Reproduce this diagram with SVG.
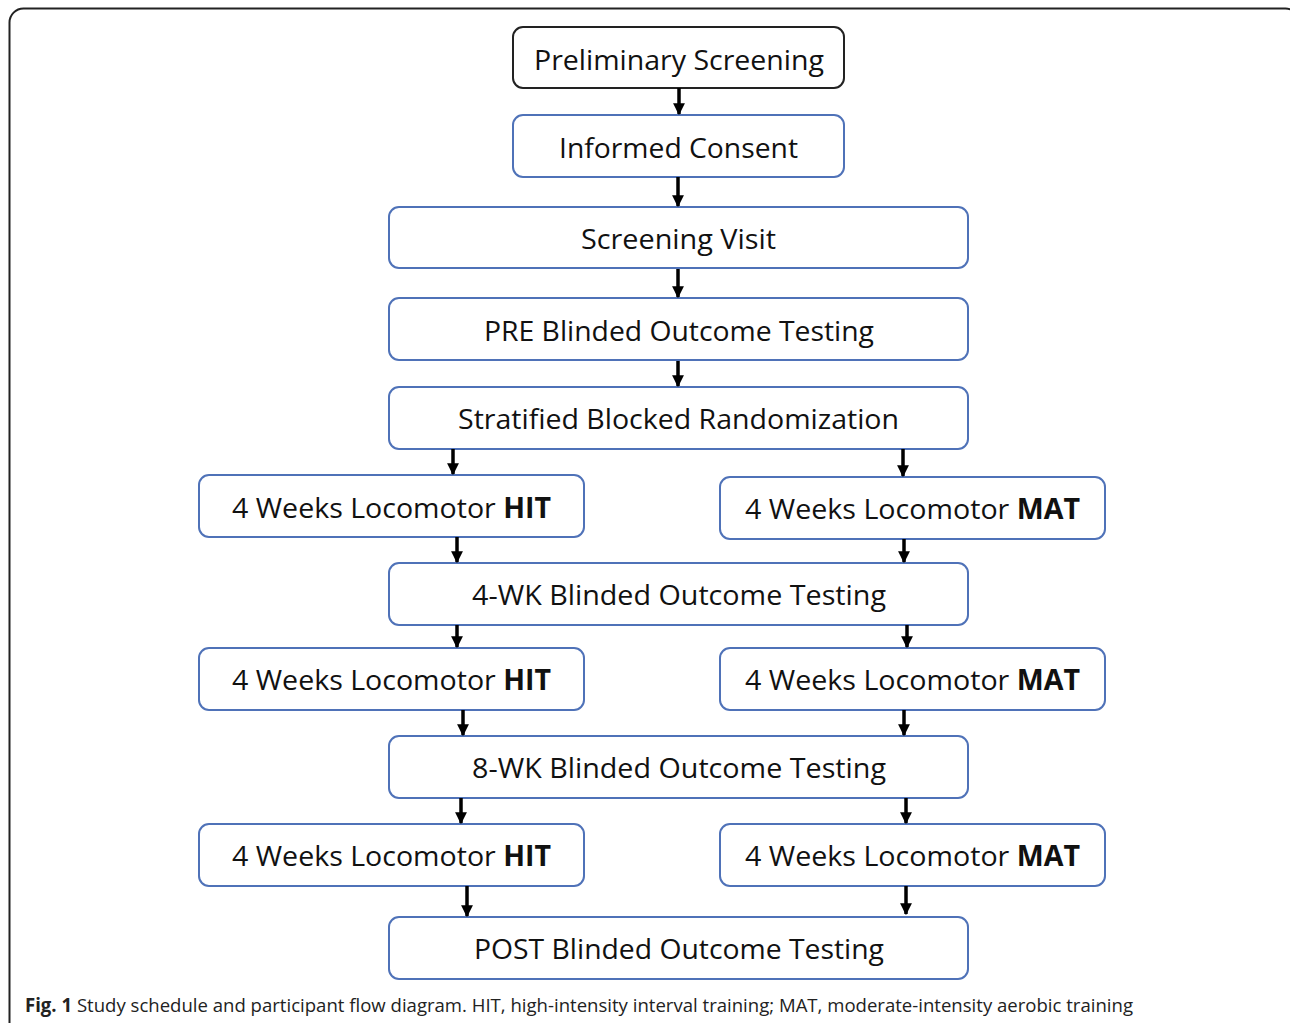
<svg xmlns="http://www.w3.org/2000/svg" width="1290" height="1023" viewBox="0 0 1290 1023">
<style>
.box{fill:#fff;stroke:#4f72b8;stroke-width:2}
.lbl{font-family:"Open Sans","Noto Sans",sans-serif;font-size:28px;fill:#111;text-anchor:middle}
.b{font-weight:bold}
.arr{stroke:#000;stroke-width:3.5;fill:none;marker-end:url(#ah)}
.cap{font-family:"Open Sans","Liberation Sans",sans-serif;font-size:19px;fill:#222}
</style>
<defs>
<marker id="ah" viewBox="0 0 10 10" refX="9" refY="5" markerWidth="3.4" markerHeight="3.6" orient="auto" markerUnits="strokeWidth">
<path d="M0,0 L10,5 L0,10 z" fill="#000"/>
</marker>
</defs>
<rect x="9.5" y="8.5" width="1290" height="1040" rx="14" fill="#fff" stroke="#222" stroke-width="2"/>
<g id="n1"><rect x="513" y="27" width="331" height="61" rx="10" fill="#fff" stroke="#222" stroke-width="2"/><text class="lbl" x="679" y="70" textLength="290" lengthAdjust="spacingAndGlyphs">Preliminary Screening</text></g>
<g id="n2"><rect class="box" x="513" y="115" width="331" height="62" rx="10"/><text class="lbl" x="678.5" y="158" textLength="239" lengthAdjust="spacingAndGlyphs">Informed Consent</text></g>
<g id="n3"><rect class="box" x="389" y="207" width="579" height="61" rx="10"/><text class="lbl" x="678.5" y="249" textLength="195" lengthAdjust="spacingAndGlyphs">Screening Visit</text></g>
<g id="n4"><rect class="box" x="389" y="298" width="579" height="62" rx="10"/><text class="lbl" x="679" y="341" textLength="390" lengthAdjust="spacingAndGlyphs">PRE Blinded Outcome Testing</text></g>
<g id="n5"><rect class="box" x="389" y="387" width="579" height="62" rx="10"/><text class="lbl" x="678.5" y="429" textLength="441" lengthAdjust="spacingAndGlyphs">Stratified Blocked Randomization</text></g>
<g id="n6"><rect class="box" x="199" y="475" width="385" height="62" rx="10"/><text class="lbl" x="391.5" y="518" textLength="319" lengthAdjust="spacingAndGlyphs">4 Weeks Locomotor <tspan class="b">HIT</tspan></text></g>
<g id="n7"><rect class="box" x="720" y="477" width="385" height="62" rx="10"/><text class="lbl" x="912.5" y="519" textLength="335" lengthAdjust="spacingAndGlyphs">4 Weeks Locomotor <tspan class="b">MAT</tspan></text></g>
<g id="n8"><rect class="box" x="389" y="563" width="579" height="62" rx="10"/><text class="lbl" x="679" y="605" textLength="414" lengthAdjust="spacingAndGlyphs">4-WK Blinded Outcome Testing</text></g>
<g id="n9"><rect class="box" x="199" y="648" width="385" height="62" rx="10"/><text class="lbl" x="391.5" y="690" textLength="319" lengthAdjust="spacingAndGlyphs">4 Weeks Locomotor <tspan class="b">HIT</tspan></text></g>
<g id="n10"><rect class="box" x="720" y="648" width="385" height="62" rx="10"/><text class="lbl" x="912.5" y="690" textLength="335" lengthAdjust="spacingAndGlyphs">4 Weeks Locomotor <tspan class="b">MAT</tspan></text></g>
<g id="n11"><rect class="box" x="389" y="736" width="579" height="62" rx="10"/><text class="lbl" x="679" y="778" textLength="414" lengthAdjust="spacingAndGlyphs">8-WK Blinded Outcome Testing</text></g>
<g id="n12"><rect class="box" x="199" y="824" width="385" height="62" rx="10"/><text class="lbl" x="391.5" y="866" textLength="319" lengthAdjust="spacingAndGlyphs">4 Weeks Locomotor <tspan class="b">HIT</tspan></text></g>
<g id="n13"><rect class="box" x="720" y="824" width="385" height="62" rx="10"/><text class="lbl" x="912.5" y="866" textLength="335" lengthAdjust="spacingAndGlyphs">4 Weeks Locomotor <tspan class="b">MAT</tspan></text></g>
<g id="n14"><rect class="box" x="389" y="917" width="579" height="62" rx="10"/><text class="lbl" x="679" y="959" textLength="410" lengthAdjust="spacingAndGlyphs">POST Blinded Outcome Testing</text></g>
<g id="connectors">
<line class="arr" x1="679" y1="88" x2="679" y2="114"/>
<line class="arr" x1="678" y1="177" x2="678" y2="206"/>
<line class="arr" x1="678" y1="269" x2="678" y2="297"/>
<line class="arr" x1="678" y1="361" x2="678" y2="386"/>
<line class="arr" x1="453" y1="449" x2="453" y2="474"/>
<line class="arr" x1="903" y1="449" x2="903" y2="476"/>
<line class="arr" x1="457" y1="537" x2="457" y2="562"/>
<line class="arr" x1="904" y1="539" x2="904" y2="562"/>
<line class="arr" x1="457" y1="625" x2="457" y2="647"/>
<line class="arr" x1="907" y1="625" x2="907" y2="647"/>
<line class="arr" x1="463" y1="710" x2="463" y2="735"/>
<line class="arr" x1="904" y1="710" x2="904" y2="735"/>
<line class="arr" x1="461" y1="798" x2="461" y2="823"/>
<line class="arr" x1="906" y1="798" x2="906" y2="823"/>
<line class="arr" x1="467" y1="886" x2="467" y2="916"/>
<line class="arr" x1="906" y1="886" x2="906" y2="914"/>
</g>
<text class="cap" x="25" y="1012" textLength="1108" lengthAdjust="spacingAndGlyphs"><tspan font-weight="bold">Fig. 1</tspan> Study schedule and participant flow diagram. HIT, high-intensity interval training; MAT, moderate-intensity aerobic training</text>
</svg>
